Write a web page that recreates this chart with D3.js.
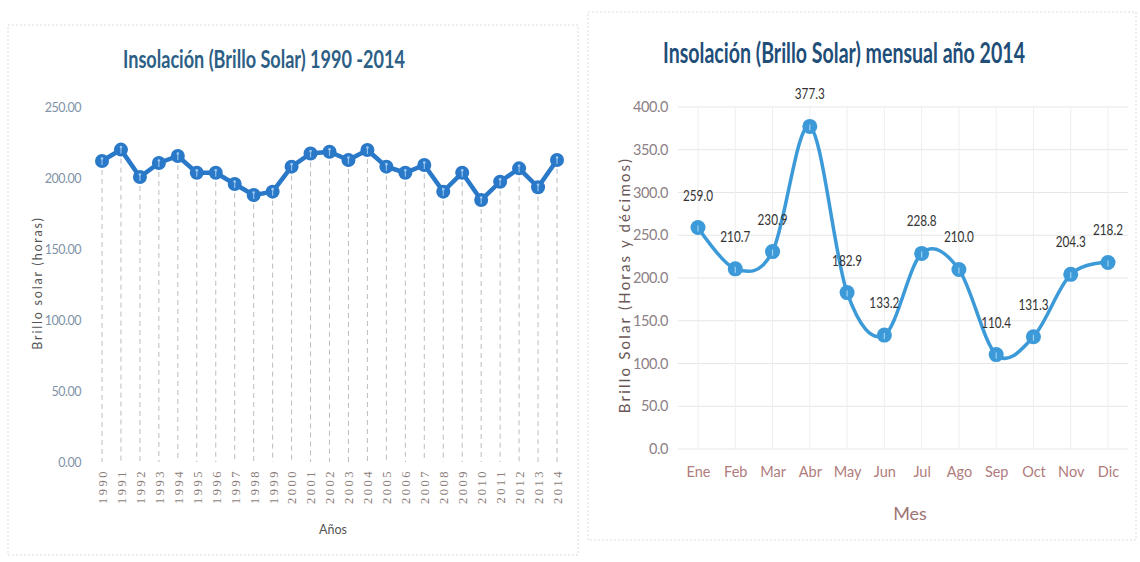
<!DOCTYPE html>
<html><head><meta charset="utf-8">
<script src="https://cdn.jsdelivr.net/npm/d3@7/dist/d3.min.js"></script>
<style>
body{margin:0;background:#fff;}
svg{display:block;}
text{font-family:Lato,"Open Sans",sans-serif;}
</style></head>
<body>
<svg id="c" width="1140" height="562"></svg>
<script>
// ---- Left chart data ----
const years = ["1990","1991","1992","1993","1994","1995","1996","1997","1998","1999","2000","2001","2002","2003","2004","2005","2006","2007","2008","2009","2010","2011","2012","2013","2014"];
const annualValues = [212.0,220.0,200.7,210.6,215.5,203.7,203.7,195.8,188.0,190.4,208.0,217.3,218.5,212.7,219.7,208.0,203.7,209.2,190.4,203.7,184.5,197.4,206.8,193.5,212.7];
const leftTicks = [0,50,100,150,200,250];

// ---- Right chart data ----
const months = ["Ene","Feb","Mar","Abr","May","Jun","Jul","Ago","Sep","Oct","Nov","Dic"];
const monthlyValues = [259.0,210.7,230.9,377.3,182.9,133.2,228.8,210.0,110.4,131.3,204.3,218.2];
const rightTicks = [0,50,100,150,200,250,300,350,400];

const svg = d3.select("#c");
svg.append("rect").attr("width",1140).attr("height",562).attr("fill","#fff");

// ================= LEFT =================
const L = svg.append("g");
L.append("rect").attr("x",8).attr("y",25).attr("width",570).attr("height",530)
  .attr("fill","none").attr("stroke","#d8dde2").attr("stroke-width",1).attr("stroke-dasharray","2,2");

L.append("text").attr("transform","translate(264,68) scale(1,1.15)").attr("text-anchor","middle")
  .attr("font-size",22).attr("fill","#2d5f86").attr("font-weight","bold")
  .attr("textLength",282).attr("lengthAdjust","spacingAndGlyphs")
  .text("Insolación (Brillo Solar) 1990 -2014");

const xL = d3.scalePoint().domain(years).range([102,557]);
const yL = d3.scaleLinear().domain([0,250]).range([462,107]);

// y axis ticks
const yAxL = L.append("g").attr("transform","translate(81,0)")
  .call(d3.axisLeft(yL).tickValues(leftTicks).tickFormat(d3.format(".2f")).tickSize(0).tickPadding(0));
yAxL.select(".domain").remove();
yAxL.selectAll("text").attr("font-size",12.5).attr("fill","#7f93a8").attr("letter-spacing","-0.5");

// x axis ticks (rotated)
const xAxL = L.append("g").attr("transform","translate(0,467)")
  .call(d3.axisBottom(xL).tickSize(0).tickPadding(0));
xAxL.select(".domain").remove();
xAxL.selectAll("text").attr("font-size",12.5).attr("fill","#8a7d7a")
  .style("font-family","'Liberation Serif','DejaVu Serif',serif")
  .attr("text-anchor","end").attr("transform","rotate(-90)")
  .attr("x",-2).attr("y",0).attr("dy","0.35em").attr("letter-spacing","2.5");

// drop lines
L.append("g").selectAll("line").data(annualValues).join("line")
  .attr("x1",(d,i)=>xL(years[i])).attr("x2",(d,i)=>xL(years[i]))
  .attr("y1",d=>yL(d)).attr("y2",yL(0))
  .attr("stroke","#b8bcc4").attr("stroke-width",1).attr("stroke-dasharray","5,4");

// line
L.append("path").datum(annualValues)
  .attr("d",d3.line().x((d,i)=>xL(years[i])).y(d=>yL(d)))
  .attr("fill","none").attr("stroke","#2a78c8").attr("stroke-width",4.5);

// markers
const mL = L.append("g").selectAll("g").data(annualValues).join("g")
  .attr("transform",(d,i)=>`translate(${xL(years[i])},${yL(d)})`);
mL.append("circle").attr("r",7).attr("fill","#2a78c8");
mL.append("line").attr("x1",0).attr("x2",0).attr("y1",-2).attr("y2",4)
  .attr("stroke","#8fc0ee").attr("stroke-width",1.2);
mL.append("circle").attr("r",1.3).attr("cy",-2.5).attr("fill","#9ccaf2");

L.append("text").attr("x",333).attr("y",534).attr("text-anchor","middle")
  .attr("font-size",12.5).attr("fill","#555").text("Años");

L.append("text").attr("transform","translate(42,283) rotate(-90)").attr("text-anchor","middle")
  .attr("font-size",12.5).attr("fill","#555").attr("letter-spacing","1.8")
  .text("Brillo solar (horas)");

// ================= RIGHT =================
const R = svg.append("g");
R.append("rect").attr("x",588).attr("y",12).attr("width",548).attr("height",528)
  .attr("fill","none").attr("stroke","#d8dde2").attr("stroke-width",1).attr("stroke-dasharray","2,2");

R.append("text").attr("transform","translate(844,63) scale(1,1.2)").attr("text-anchor","middle")
  .attr("font-size",24).attr("fill","#1f4e79").attr("font-weight","bold")
  .attr("textLength",362).attr("lengthAdjust","spacingAndGlyphs")
  .text("Insolación (Brillo Solar) mensual año 2014");

const xR = d3.scalePoint().domain(months).range([698,1108]);
const yR = d3.scaleLinear().domain([0,400]).range([449,107]);

// gridlines
R.append("g").selectAll("line").data(rightTicks).join("line")
  .attr("x1",678).attr("x2",1128).attr("y1",d=>yR(d)).attr("y2",d=>yR(d))
  .attr("stroke","#e6e6e6").attr("stroke-width",1);
R.append("g").selectAll("line").data(months).join("line")
  .attr("x1",d=>xR(d)).attr("x2",d=>xR(d)).attr("y1",yR(400)).attr("y2",yR(0))
  .attr("stroke","#eeeeee").attr("stroke-width",1);

const yAxR = R.append("g").attr("transform","translate(668,0)")
  .call(d3.axisLeft(yR).tickValues(rightTicks).tickFormat(d3.format(".1f")).tickSize(0).tickPadding(0));
yAxR.select(".domain").remove();
yAxR.selectAll("text").attr("font-size",14.5).attr("fill","#8c7f86").attr("letter-spacing","-0.4");

const xAxR = R.append("g").attr("transform","translate(0,467)")
  .call(d3.axisBottom(xR).tickSize(0).tickPadding(0));
xAxR.select(".domain").remove();
xAxR.selectAll("text").attr("font-size",14.5).attr("fill","#b07c7c").attr("dy","0.7em");

R.append("text").attr("x",910).attr("y",520).attr("text-anchor","middle")
  .attr("font-size",18).attr("fill","#a07474").text("Mes");

R.append("text").attr("transform","translate(630,285) rotate(-90)").attr("text-anchor","middle")
  .attr("font-size",15).attr("fill","#6a5656").attr("letter-spacing","2.2")
  .text("Brillo Solar (Horas y décimos)");

// smooth line
R.append("path").datum(monthlyValues)
  .attr("d",d3.line().x((d,i)=>xR(months[i])).y(d=>yR(d)).curve(d3.curveCardinal.tension(0)))
  .attr("fill","none").attr("stroke","#3d9ad8").attr("stroke-width",3.5);

const mR = R.append("g").selectAll("g").data(monthlyValues).join("g")
  .attr("transform",(d,i)=>`translate(${xR(months[i])},${yR(d)})`);
mR.append("circle").attr("r",7.5).attr("fill","#3d9ad8");
mR.append("line").attr("x1",0).attr("x2",0).attr("y1",-2).attr("y2",4)
  .attr("stroke","#9fd0f2").attr("stroke-width",1.2);

// data labels
R.append("g").selectAll("text").data(monthlyValues).join("text")
  .attr("x",(d,i)=>xR(months[i])).attr("y",d=>yR(d)-27)
  .attr("text-anchor","middle").attr("font-size",14.5).attr("fill","#333")
  .attr("textLength",30).attr("lengthAdjust","spacingAndGlyphs")
  .text(d=>d3.format(".1f")(d));
</script>
</body></html>
